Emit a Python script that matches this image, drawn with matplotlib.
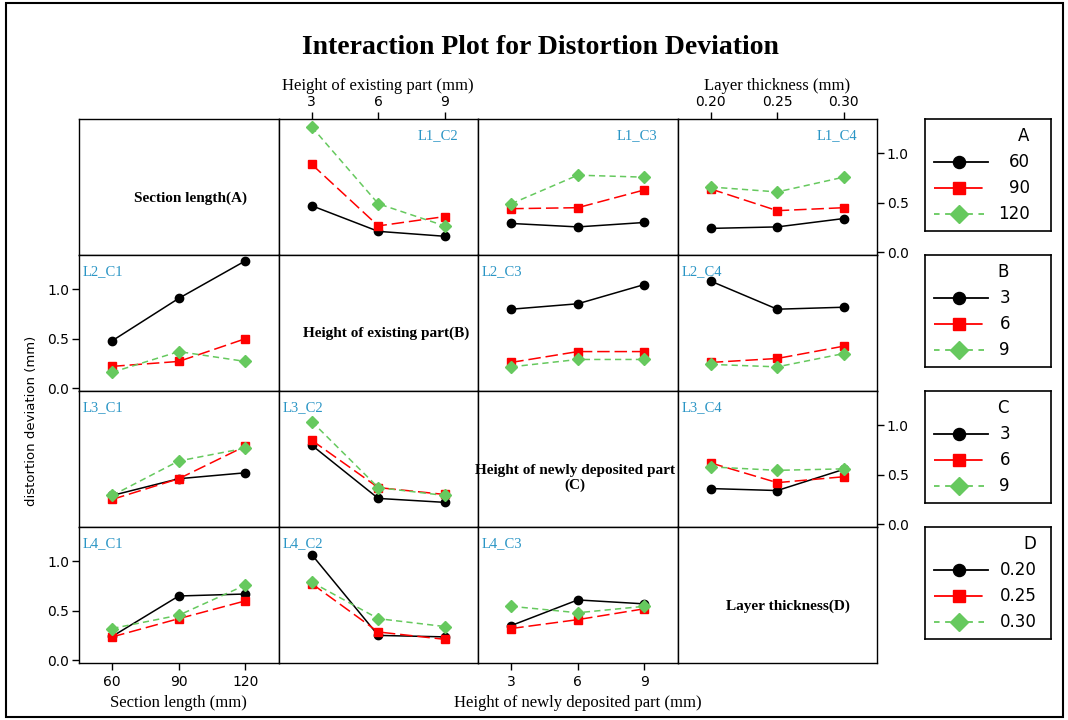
import matplotlib
matplotlib.use("Agg")
import matplotlib.pyplot as plt
from matplotlib.patches import Rectangle

plt.rcParams['font.family'] = 'DejaVu Sans'
plt.rcParams['lines.scale_dashes'] = False

# factor levels
A_levels = [60, 90, 120]
B_levels = [3, 6, 9]
C_levels = [3, 6, 9]
D_levels = [0.20, 0.25, 0.30]
D_labels = ['0.20', '0.25', '0.30']

# mean distortion deviation, one list per level of the row factor
# row 1: lines = A
L1_C2 = [[0.47, 0.21, 0.16], [0.89, 0.265, 0.36], [1.27, 0.49, 0.265]]
L1_C3 = [[0.29, 0.255, 0.30], [0.44, 0.45, 0.63], [0.49, 0.78, 0.76]]
L1_C4 = [[0.24, 0.255, 0.34], [0.64, 0.42, 0.45], [0.66, 0.61, 0.76]]
# row 2: lines = B
L2_C1 = [[0.48, 0.91, 1.29], [0.22, 0.27, 0.50], [0.16, 0.37, 0.27]]
L2_C3 = [[0.80, 0.855, 1.05], [0.26, 0.37, 0.37], [0.215, 0.29, 0.29]]
L2_C4 = [[1.085, 0.80, 0.82], [0.26, 0.30, 0.425], [0.24, 0.215, 0.35]]
# row 3: lines = C
L3_C1 = [[0.29, 0.46, 0.52], [0.25, 0.46, 0.79], [0.29, 0.64, 0.77]]
L3_C2 = [[0.80, 0.26, 0.22], [0.85, 0.37, 0.30], [1.04, 0.37, 0.29]]
L3_C4 = [[0.36, 0.34, 0.555], [0.62, 0.42, 0.48], [0.58, 0.545, 0.56]]
# row 4: lines = D
L4_C1 = [[0.24, 0.65, 0.67], [0.235, 0.42, 0.60], [0.32, 0.455, 0.76]]
L4_C2 = [[1.07, 0.25, 0.235], [0.775, 0.285, 0.21], [0.79, 0.42, 0.34]]
L4_C3 = [[0.35, 0.61, 0.57], [0.32, 0.41, 0.52], [0.545, 0.48, 0.545]]

levels = [A_levels, B_levels, C_levels, D_levels]
level_labels = [[str(v) for v in A_levels], [str(v) for v in B_levels],
                [str(v) for v in C_levels], D_labels]
factor_names = ['A', 'B', 'C', 'D']
panels = {(0, 1): L1_C2, (0, 2): L1_C3, (0, 3): L1_C4,
          (1, 0): L2_C1, (1, 2): L2_C3, (1, 3): L2_C4,
          (2, 0): L3_C1, (2, 1): L3_C2, (2, 3): L3_C4,
          (3, 0): L4_C1, (3, 1): L4_C2, (3, 2): L4_C3}
diag_text = ['Section length(A)', 'Height of existing part(B)',
             'Height of newly deposited part\n(C)', 'Layer thickness(D)']
diag_pos = [(190, 198), (386, 333), (575, 478), (788, 606)]

GREEN = '#66C95E'
styles = [dict(color='black', ls='-', marker='o', ms=6, lw=1.1),
          dict(color='red', ls=(0, (9, 3.5)), marker='s', ms=6.2, lw=1.1),
          dict(color=GREEN, ls=(0, (4.5, 3)), marker='D', ms=6, lw=1.1)]
legend_ls = ['-', (0, (16, 3)), (0, (4, 4))]
LBL = '#2A95C5'
SERIF = 'Liberation Serif'

W, H = 1068, 720
fig = plt.figure(figsize=(W / 100, H / 100), dpi=100)


def px_axes(x, y, w, h):
    return fig.add_axes([x / W, 1 - (y + h) / H, w / W, h / H])


col_x = [79, 278.5, 478, 677.5]
cw = 199.5
row_y = [119, 255, 391, 527]
rh = 136

axes = {}
for r in range(4):
    for c in range(4):
        ax = px_axes(col_x[c], row_y[r], cw, rh)
        axes[(r, c)] = ax
        ax.set_xticks([])
        ax.set_yticks([])
        for s in ax.spines.values():
            s.set_linewidth(1.0)
        if r == c:
            ax.set_xlim(0, 1)
            ax.set_ylim(0, 1)
            fig.text(diag_pos[r][0] / W, 1 - diag_pos[r][1] / H, diag_text[r],
                     ha='center', va='center', fontsize=11, fontweight='bold',
                     family=SERIF, linespacing=1.2)
            continue
        xs = levels[c]
        step = xs[1] - xs[0]
        for k, vals in enumerate(panels[(r, c)]):
            ax.plot(xs, vals, **styles[k])
        ax.set_xlim(xs[0] - step / 2, xs[-1] + step / 2)
        ax.set_ylim(-0.03, 1.35)
        name = 'L%d_C%d' % (r + 1, c + 1)
        if r == 0:
            ax.text(0.9, 0.88, name, transform=ax.transAxes, ha='right',
                    va='center', color=LBL, fontsize=10.5, family=SERIF)
        else:
            ax.text(0.02, 0.88, name, transform=ax.transAxes, ha='left',
                    va='center', color=LBL, fontsize=10.5, family=SERIF)

tick_kw = dict(length=5, width=1.0, labelsize=10, pad=2)

# top axes
for (r, c), lab in [((0, 1), 'Height of existing part (mm)'),
                    ((0, 3), 'Layer thickness (mm)')]:
    ax = axes[(r, c)]
    ax.xaxis.tick_top()
    ax.set_xticks(levels[c])
    ax.set_xticklabels(level_labels[c])
    ax.tick_params(axis='x', **tick_kw)
    ax.xaxis.set_label_position('top')
    ax.set_xlabel(lab, family=SERIF, fontsize=12, labelpad=3.5)

# bottom axes
for (r, c), lab in [((3, 0), 'Section length (mm)'),
                    ((3, 2), 'Height of newly deposited part (mm)')]:
    ax = axes[(r, c)]
    ax.set_xticks(levels[c])
    ax.set_xticklabels(level_labels[c])
    ax.tick_params(axis='x', **dict(tick_kw, pad=4))
    ax.set_xlabel(lab, family=SERIF, fontsize=12, labelpad=4)

yt = [0.0, 0.5, 1.0]
ytl = ['0.0', '0.5', '1.0']
for key in [(1, 0), (3, 0)]:
    ax = axes[key]
    ax.set_yticks(yt)
    ax.set_yticklabels(ytl)
    ax.tick_params(axis='y', **tick_kw)
for key in [(0, 3), (2, 3)]:
    ax = axes[key]
    ax.yaxis.tick_right()
    ax.set_yticks(yt)
    ax.set_yticklabels(ytl)
    ax.tick_params(axis='y', **tick_kw)

fig.text(32 / W, 1 - 421 / H, 'distortion deviation (mm)', rotation=90,
         ha='center', va='center', fontsize=9.5)

# legends, one box per row factor
lab_right = [1030, 1010, 1010, 1037]
for r in range(4):
    top = row_y[r]
    lax = px_axes(925, top, 126, 112)
    lax.set_xlim(925, 1051)
    lax.set_ylim(top + 112, top)
    lax.set_xticks([])
    lax.set_yticks([])
    for s in lax.spines.values():
        s.set_linewidth(1.2)
    lax.text(lab_right[r] - 1, top + 17, factor_names[r], ha='right',
             va='center', fontsize=12)
    for k in range(3):
        yy = top + 43 + 26 * k
        color = styles[k]['color']
        x_end = 983 if k == 1 else 988
        lax.plot([934, x_end], [yy, yy], color=color, ls=legend_ls[k], lw=1.3)
        lax.plot([959], [yy], ls='none', marker=styles[k]['marker'],
                 ms=styles[k]['ms'] * 1.45, color=color)
        lax.text(lab_right[r], yy, level_labels[r][k], ha='right',
                 va='center', fontsize=12)

fig.text(540 / W, 1 - 47 / H, 'Interaction Plot for Distortion Deviation',
         ha='center', va='center', fontsize=20, fontweight='bold',
         family=SERIF)

fig.add_artist(Rectangle((6 / W, 1 - 717 / H), 1057 / W, 714 / H,
                         transform=fig.transFigure, fill=False, lw=1.5,
                         color='black'))

fig.savefig('out.png', dpi=100)
